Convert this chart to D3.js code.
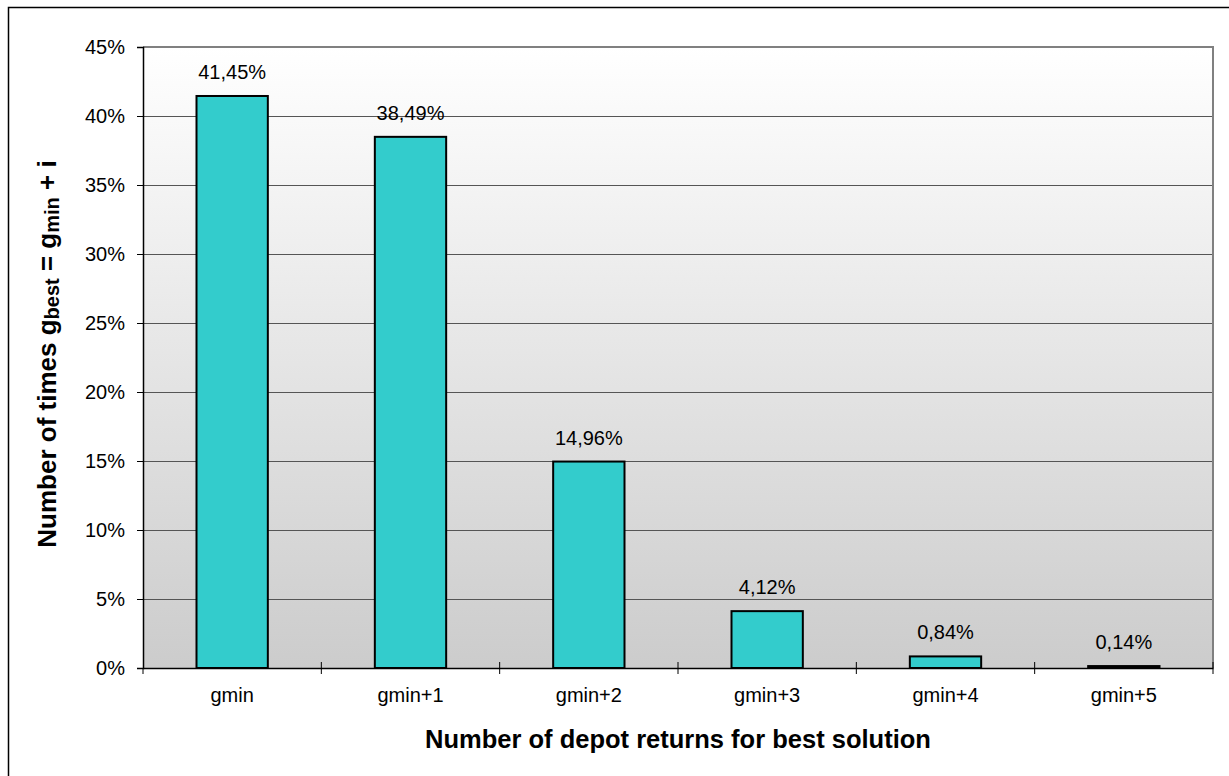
<!DOCTYPE html>
<html><head><meta charset="utf-8">
<script src="https://cdn.jsdelivr.net/npm/d3@7"></script>
<style>body{margin:0;background:#fff}svg{display:block;font-family:"Liberation Sans",Arial,sans-serif}</style>
</head><body>
<svg id="c" width="1229" height="776"></svg>
<script>
const categories = ["gmin","gmin+1","gmin+2","gmin+3","gmin+4","gmin+5"];
const values = [41.45, 38.49, 14.96, 4.12, 0.84, 0.14];
const valueLabels = ["41,45%","38,49%","14,96%","4,12%","0,84%","0,14%"];
const yTicks = [0,5,10,15,20,25,30,35,40,45];

const svg = d3.select("#c");
const L=143, R=1213, T=47, B=668;
const x = d3.scaleBand().domain(categories).range([L,R]).paddingInner(0.6).paddingOuter(0.3);
const xc = d3.scaleBand().domain(categories).range([L,R]);
const y = d3.scaleLinear().domain([0,45]).range([B,T]);
const FF = "Liberation Sans, Arial, sans-serif";

// outer border
svg.append("rect").attr("x",8.5).attr("y",7.5).attr("width",1240).attr("height",800)
  .attr("fill","none").attr("stroke","#000").attr("stroke-width",1.5);

const defs = svg.append("defs");
const g = defs.append("linearGradient").attr("id","bg").attr("x1",0).attr("y1",0).attr("x2",0).attr("y2",1);
g.append("stop").attr("offset","0%").attr("stop-color","#ffffff");
g.append("stop").attr("offset","100%").attr("stop-color","#cccccc");
svg.append("rect").attr("x",L).attr("y",T).attr("width",R-L).attr("height",B-T).attr("fill","url(#bg)");

// gridlines
svg.append("g").selectAll("line").data(yTicks.filter(d=>d>0&&d<45)).join("line")
  .attr("x1",L).attr("x2",R).attr("y1",d=>y(d)+0.5).attr("y2",d=>y(d)+0.5)
  .attr("stroke","#555").attr("stroke-width",1);

// plot frame top/right
svg.append("path").attr("d",`M${L},${T}H${R}V${B}`).attr("fill","none").attr("stroke","#808080").attr("stroke-width",2);

// bars
svg.append("g").selectAll("rect").data(values).join("rect")
  .attr("x",(d,i)=>x(categories[i])).attr("width",x.bandwidth())
  .attr("y",d=>y(d)).attr("height",d=>B-y(d))
  .attr("fill","#33cccc").attr("stroke","#000").attr("stroke-width",2);

// value labels
svg.append("g").selectAll("text").data(values).join("text")
  .attr("x",(d,i)=>x(categories[i])+x.bandwidth()/2).attr("y",d=>y(d)-17)
  .attr("text-anchor","middle").attr("font-size",20).attr("fill","#000")
  .text((d,i)=>valueLabels[i]);

// y axis
const ya = svg.append("g").attr("transform",`translate(${L},0)`)
  .call(d3.axisLeft(y).tickValues(yTicks).tickSize(6).tickPadding(12).tickFormat(d=>d+"%"));
ya.select(".domain").attr("stroke","#000").attr("stroke-width",1.5);
ya.selectAll(".tick line").attr("stroke","#000");
ya.selectAll("text").attr("font-size",20).attr("font-family",FF).attr("fill","#000");

// x axis
const xa = svg.append("g").attr("transform",`translate(0,${B})`)
  .call(d3.axisBottom(xc).tickSize(0).tickPadding(20));
xa.select(".domain").attr("stroke","#000").attr("stroke-width",1.5);
xa.selectAll("text").attr("font-size",20).attr("font-family",FF).attr("fill","#000");
// boundary ticks
const bounds = categories.map(c=>xc(c)).concat([R]);
svg.append("g").selectAll("line").data(bounds).join("line")
  .attr("x1",d=>d).attr("x2",d=>d).attr("y1",(d,i)=>i===0?B:B-6).attr("y2",B+6)
  .attr("stroke","#000").attr("stroke-width",1);

// axis titles
svg.append("text").attr("x",(L+R)/2).attr("y",748).attr("text-anchor","middle")
  .attr("font-size",25.5).attr("font-weight","bold").text("Number of depot returns for best solution");
const yt = svg.append("text").attr("transform","translate(56,354) rotate(-90)").attr("text-anchor","middle")
  .attr("font-size",26).attr("font-weight","bold");
yt.append("tspan").text("Number of times g");
yt.append("tspan").attr("font-size",20).attr("dy",3).text("best");
yt.append("tspan").attr("dy",-3).text(" = g");
yt.append("tspan").attr("font-size",20).attr("dy",3).text("min");
yt.append("tspan").attr("dy",-3).text(" + i");
</script>
</body></html>
